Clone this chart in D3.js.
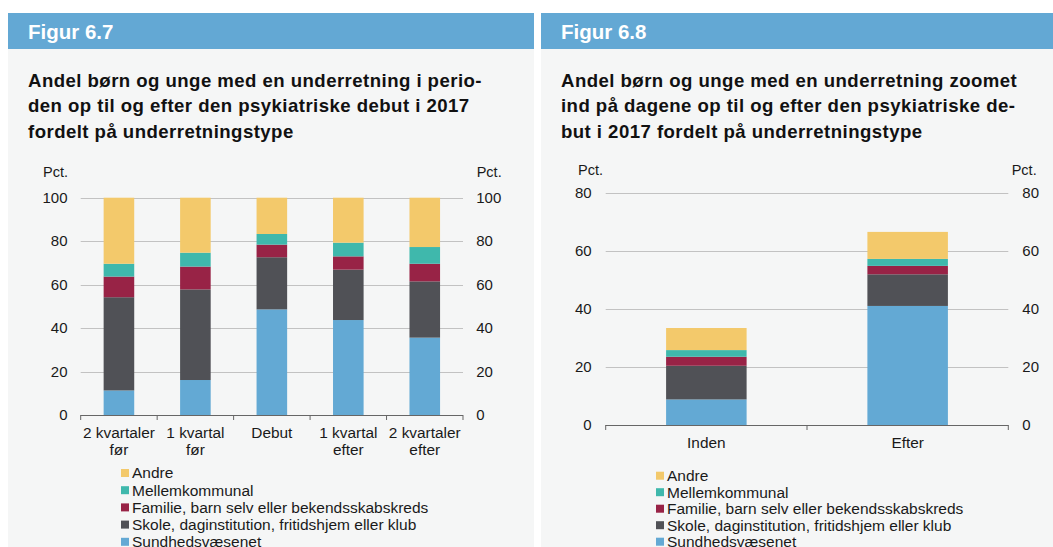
<!DOCTYPE html>
<html lang="da">
<head>
<meta charset="UTF-8">
<title>Figur 6.7 og 6.8</title>
<style>
  body { margin: 0; background: #fff; }
  svg { display: block; font-family: "Liberation Sans", Arial, sans-serif; }
  .grid line { stroke: #c2c2c2; stroke-width: 1; }
  .tick-label { font-size: 15px; fill: #1a1a1a; }
  .pct-label { font-size: 14.5px; fill: #1a1a1a; }
  .cat-label { font-size: 15.4px; fill: #1a1a1a; }
  .legend-label { font-size: 15.5px; fill: #1a1a1a; }
</style>
</head>
<body>
<div id="chart"></div>
<script src="https://cdn.jsdelivr.net/npm/d3@7"></script>
<script>
// series, bottom to top
var seriesNames = ["Sundhedsvæsenet", "Skole, daginstitution, fritidshjem eller klub",
    "Familie, barn selv eller bekendsskabskreds", "Mellemkommunal", "Andre"];
var seriesColors = ["#63a9d4", "#505156", "#982346", "#3fb8ac", "#f3c96b"];

// Figur 6.7 - quarters around debut
var quarterCats = ["2 kvartaler før", "1 kvartal før", "Debut", "1 kvartal efter", "2 kvartaler efter"];
var sundhedQ  = [11.3, 16.1, 48.6, 43.7, 35.6];
var skoleQ    = [42.9, 41.7, 24.0, 23.2, 25.9];
var familieQ  = [9.5, 10.5, 5.8, 6.1, 8.1];
var mellemQ   = [5.9, 6.4, 4.9, 6.3, 7.7];
var andreQ    = [30.4, 25.3, 16.7, 20.7, 22.7];
var yTicksQ   = [0, 20, 40, 60, 80, 100];

// Figur 6.8 - days around debut
var dayCats  = ["Inden", "Efter"];
var sundhedD = [8.8, 41.0];
var skoleD   = [11.6, 10.9];
var familieD = [3.1, 2.9];
var mellemD  = [2.3, 2.4];
var andreD   = [7.6, 9.3];
var yTicksD  = [0, 20, 40, 60, 80];

var titleQ = ["Andel børn og unge med en underretning i perio-",
    "den op til og efter den psykiatriske debut i 2017",
    "fordelt på underretningstype"];
var titleD = ["Andel børn og unge med en underretning zoomet",
    "ind på dagene op til og efter den psykiatriske de-",
    "but i 2017 fordelt på underretningstype"];

var W = 1053, H = 547;

var svg = d3.select("#chart").append("svg")
    .attr("width", W)
    .attr("height", H);

function buildRows(cats, cols) {
    return cats.map(function(c, i) {
        var row = {cat: c};
        seriesNames.forEach(function(s, j) { row[s] = cols[j][i]; });
        return row;
    });
}

function drawPanel(opt) {
    var g = svg.append("g").attr("transform", "translate(" + opt.x + ",0)");

    // panel background + header
    g.append("rect")
        .attr("x", 0).attr("y", 13)
        .attr("width", opt.w).attr("height", H - 13)
        .attr("fill", "#f5f6f6");
    g.append("rect")
        .attr("x", 0).attr("y", 13)
        .attr("width", opt.w).attr("height", 36)
        .attr("fill", "#63a8d4");
    g.append("text")
        .attr("x", 20).attr("y", 38.5)
        .attr("fill", "#fff")
        .attr("font-size", "20.5px")
        .attr("font-weight", "bold")
        .text(opt.fig);

    g.append("g").selectAll("text")
        .data(opt.title)
        .enter().append("text")
        .attr("x", 20)
        .attr("y", function(d, i) { return 86.7 + i * 25.4; })
        .attr("font-size", "18.6px")
        .attr("letter-spacing", "0.45px")
        .attr("font-weight", "bold")
        .attr("fill", "#111")
        .text(function(d) { return d; });

    var plot = g.append("g").attr("transform", "translate(" + opt.left + ",0)");
    var pw = opt.right - opt.left;

    var x = d3.scaleBand()
        .domain(opt.cats)
        .range([0, pw])
        .paddingInner(0.6)
        .paddingOuter(0.3);

    var y = d3.scaleLinear()
        .domain([0, d3.max(opt.ticks)])
        .range([opt.y0, opt.yTop]);

    // gridlines
    plot.append("g")
        .attr("class", "grid")
        .selectAll("line")
        .data(opt.ticks.filter(function(t) { return t > 0; }))
        .enter().append("line")
        .attr("x1", 0).attr("x2", pw)
        .attr("y1", function(d) { return Math.round(y(d)) + 0.5; })
        .attr("y2", function(d) { return Math.round(y(d)) + 0.5; });

    // tick labels, both sides
    plot.append("g").selectAll("text")
        .data(opt.ticks)
        .enter().append("text")
        .attr("class", "tick-label")
        .attr("x", -opt.labelGap)
        .attr("y", function(d) { return y(d); })
        .attr("dy", "0.35em")
        .attr("text-anchor", "end")
        .text(function(d) { return d; });
    plot.append("g").selectAll("text")
        .data(opt.ticks)
        .enter().append("text")
        .attr("class", "tick-label")
        .attr("x", pw + opt.labelGap)
        .attr("y", function(d) { return y(d); })
        .attr("dy", "0.35em")
        .text(function(d) { return d; });

    plot.append("text").attr("class", "pct-label")
        .attr("x", opt.pctLeft).attr("y", opt.pctY)
        .text("Pct.");
    plot.append("text").attr("class", "pct-label")
        .attr("x", pw + opt.pctRight).attr("y", opt.pctY)
        .text("Pct.");

    // stacked bars
    var rows = buildRows(opt.cats, opt.cols);
    var stacked = d3.stack().keys(seriesNames)(rows);

    plot.append("g").selectAll("g")
        .data(stacked)
        .enter().append("g")
        .attr("fill", function(d, i) { return seriesColors[i]; })
        .selectAll("rect")
        .data(function(d) { return d; })
        .enter().append("rect")
        .attr("x", function(d) { return x(d.data.cat); })
        .attr("width", x.bandwidth())
        .attr("y", function(d) { return y(d[1]); })
        .attr("height", function(d) { return y(d[0]) - y(d[1]); });

    // x axis: line + ticks at category boundaries
    var step = pw / opt.cats.length;
    plot.append("line")
        .attr("x1", 0).attr("x2", pw)
        .attr("y1", opt.y0 + 0.5).attr("y2", opt.y0 + 0.5)
        .attr("stroke", "#666");
    plot.append("g").selectAll("line")
        .data(d3.range(opt.cats.length + 1))
        .enter().append("line")
        .attr("x1", function(d) { return d * step; })
        .attr("x2", function(d) { return d * step; })
        .attr("y1", opt.y0).attr("y2", opt.y0 + 5)
        .attr("stroke", "#666");

    var catText = plot.append("g").selectAll("text")
        .data(opt.cats)
        .enter().append("text")
        .attr("class", "cat-label")
        .attr("text-anchor", "middle")
        .attr("x", function(d) { return x(d) + x.bandwidth() / 2; })
        .attr("y", opt.catY);
    catText.each(function(d) {
        var words = d.split(" ");
        var lines = words.length > 1 ? [words.slice(0, -1).join(" "), words[words.length - 1]] : [d];
        var t = d3.select(this);
        lines.forEach(function(l, i) {
            t.append("tspan")
                .attr("x", t.attr("x"))
                .attr("dy", i === 0 ? 0 : 17.3)
                .text(l);
        });
    });

    // legend, top item = top of stack
    var legendItems = seriesNames.map(function(s, i) { return {name: s, color: seriesColors[i]}; }).reverse();
    var lg = g.append("g").attr("transform", "translate(" + opt.legendX + "," + opt.legendY + ")");
    var item = lg.selectAll("g")
        .data(legendItems)
        .enter().append("g")
        .attr("transform", function(d, i) { return "translate(0," + (i * opt.legendStep) + ")"; });
    item.append("rect")
        .attr("x", 0).attr("y", -4)
        .attr("width", 8).attr("height", 8)
        .attr("fill", function(d) { return d.color; });
    item.append("text")
        .attr("class", "legend-label")
        .attr("x", 11)
        .attr("dy", "0.35em")
        .text(function(d) { return d.name; });
}

drawPanel({
    x: 8, w: 526, fig: "Figur 6.7", title: titleQ,
    cats: quarterCats, cols: [sundhedQ, skoleQ, familieQ, mellemQ, andreQ], ticks: yTicksQ,
    left: 72.7, right: 455, y0: 415, yTop: 197.7, labelGap: 13.2,
    pctLeft: -37.7, pctRight: 13.7, pctY: 177,
    catY: 438, legendX: 113, legendY: 473, legendStep: 17.2
});

drawPanel({
    x: 541, w: 512, fig: "Figur 6.8", title: titleD,
    cats: dayCats, cols: [sundhedD, skoleD, familieD, mellemD, andreD], ticks: yTicksD,
    left: 64.7, right: 467.3, y0: 425, yTop: 192.7, labelGap: 14,
    pctLeft: -27.7, pctRight: 3.4, pctY: 175,
    catY: 448, legendX: 115, legendY: 475.7, legendStep: 16.5
});
</script>
</body>
</html>
